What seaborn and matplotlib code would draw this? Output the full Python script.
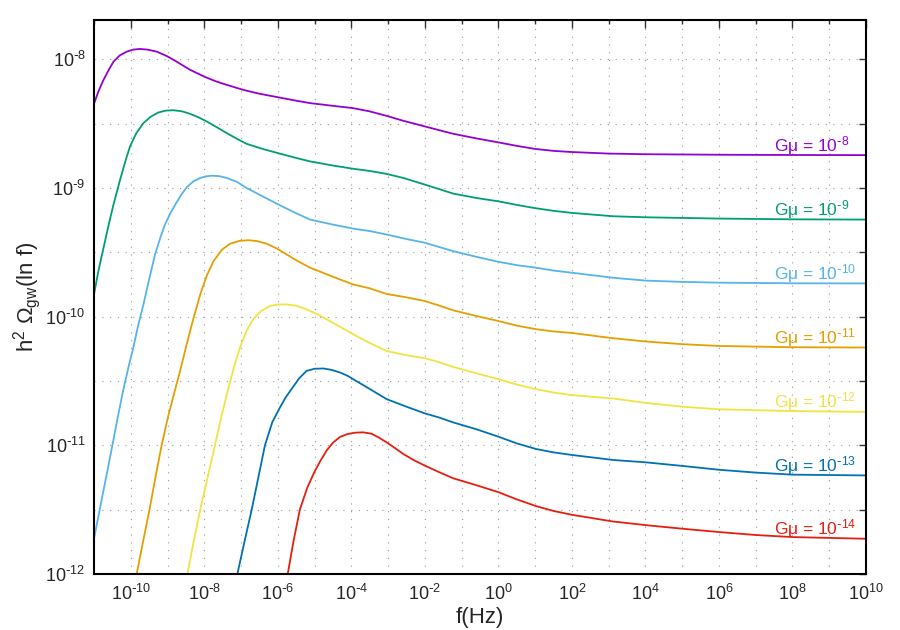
import matplotlib
matplotlib.use("Agg")
import matplotlib.pyplot as plt
import matplotlib.ticker as mticker
import numpy as np
import pandas as pd
import seaborn as sns

# log10(f) and log10(h^2 Omega_gw), one pair per curve
lf_m8 = [-11.0, -10.94, -10.88, -10.81, -10.74, -10.6, -10.47, -10.3, -10.11, -9.93, -9.75, -9.55, -9.29,
         -9.0, -8.75, -8.4, -8.0, -7.7, -7.39, -6.94, -6.5, -6.0, -5.5, -5.12, -4.5, -3.95, -3.5, -3.04,
         -2.59, -2.0, -1.6, -1.23, -0.6, 0.0, 0.5, 1.0, 1.5, 2.0, 3.0, 4.0, 6.0, 8.0, 10.0]
lo_m8 = [-8.347, -8.297, -8.251, -8.204, -8.160, -8.083, -8.019, -7.970, -7.941, -7.925, -7.920, -7.925, -7.941,
         -7.978, -8.019, -8.080, -8.135, -8.170, -8.199, -8.238, -8.268, -8.295, -8.322, -8.341, -8.362, -8.380, -8.405, -8.440,
         -8.478, -8.522, -8.552, -8.579, -8.615, -8.646, -8.673, -8.697, -8.712, -8.721, -8.733, -8.738, -8.742, -8.744, -8.745]

lf_m9 = [-11.0, -10.94, -10.88, -10.81, -10.74, -10.6, -10.47, -10.29, -10.15, -10.02, -9.85, -9.655, -9.45,
         -9.25, -9.05, -8.84, -8.6, -8.39, -8.15, -7.93, -7.65, -7.39, -7.1, -6.85, -6.4, -6.0, -5.5, -5.12,
         -4.5, -3.95, -3.5, -3.04, -2.59, -2.0, -1.6, -1.23, -0.6, 0.0, 0.5, 1.0, 1.5, 2.0, 3.12, 4.0, 6.0, 8.0, 10.0]
lo_m9 = [-9.827, -9.735, -9.646, -9.553, -9.465, -9.285, -9.129, -8.936, -8.795, -8.677, -8.575, -8.496, -8.445,
         -8.414, -8.399, -8.396, -8.405, -8.424, -8.452, -8.484, -8.530, -8.574, -8.620, -8.657, -8.698, -8.729, -8.767, -8.794,
         -8.826, -8.851, -8.868, -8.891, -8.922, -8.974, -9.010, -9.044, -9.078, -9.104, -9.132, -9.157, -9.178, -9.194, -9.220,
         -9.228, -9.238, -9.244, -9.246]

lf_m10 = [-11.01, -10.9, -10.79, -10.65, -10.52, -10.36, -10.2, -10.06, -9.93, -9.8, -9.655, -9.5, -9.34, -9.2,
          -9.07, -8.92, -8.77, -8.62, -8.48, -8.3, -8.11, -7.95, -7.8, -7.6, -7.39, -7.1, -6.85, -6.45, -6.03,
          -5.55, -5.12, -4.5, -3.95, -3.5, -3.04, -2.5, -2.0, -1.6, -1.23, -0.6, 0.0, 0.5, 1.03, 1.5, 2.0, 3.12,
          4.0, 5.0, 6.0, 8.0, 10.0]
lo_m10 = [-11.74, -11.58, -11.42, -11.22, -11.03, -10.79, -10.564, -10.39, -10.24, -10.07, -9.905, -9.71, -9.517, -9.39,
          -9.285, -9.195, -9.12, -9.05, -8.995, -8.95, -8.922, -8.91, -8.905, -8.908, -8.922, -8.955, -9.0, -9.06, -9.122,
          -9.19, -9.246, -9.285, -9.316, -9.335, -9.362, -9.397, -9.426, -9.46, -9.491, -9.535, -9.574, -9.6, -9.62, -9.642,
          -9.659, -9.698, -9.72, -9.73, -9.736, -9.741, -9.742]

lf_m11 = [-9.90, -9.84, -9.66, -9.49, -9.33, -9.16, -8.98, -8.79, -8.63, -8.48, -8.3, -8.11, -7.93, -7.75, -7.52,
          -7.30, -7.05, -6.80, -6.55, -6.30, -6.03, -5.76, -5.45, -5.12, -4.5, -3.95, -3.5, -3.04, -2.5, -2.0,
          -1.6, -1.23, -0.6, 0.0, 0.5, 1.03, 1.5, 2.0, 3.12, 4.0, 5.0, 6.0, 8.0, 10.0]
lo_m11 = [-12.09, -12.0, -11.74, -11.5, -11.25, -11.0, -10.77, -10.564, -10.39, -10.215, -10.02, -9.827, -9.68, -9.569, -9.48,
          -9.434, -9.412, -9.406, -9.414, -9.434, -9.47, -9.517, -9.57, -9.62, -9.69, -9.75, -9.78, -9.824, -9.85, -9.879,
          -9.915, -9.951, -9.995, -10.034, -10.07, -10.098, -10.115, -10.127, -10.168, -10.193, -10.214, -10.228, -10.238, -10.240]

lf_m12 = [-8.52, -8.46, -8.29, -8.11, -7.91, -7.71, -7.53, -7.35, -7.19, -7.03, -6.85, -6.67, -6.45, -6.21, -6.0,
          -5.78, -5.5, -5.22, -4.95, -4.67, -4.3, -3.95, -3.5, -3.04, -2.5, -2.0, -1.6, -1.23, -0.6, 0.0, 0.5,
          1.03, 1.5, 2.0, 3.12, 4.0, 5.0, 6.0, 8.0, 10.0]
lo_m12 = [-12.09, -12.0, -11.75, -11.5, -11.25, -11.0, -10.77, -10.564, -10.39, -10.24, -10.11, -10.021, -9.955, -9.918, -9.906,
          -9.905, -9.915, -9.943, -9.978, -10.021, -10.08, -10.137, -10.205, -10.267, -10.30, -10.323, -10.355, -10.391, -10.44, -10.486, -10.528,
          -10.564, -10.59, -10.61, -10.636, -10.67, -10.7, -10.72, -10.734, -10.74]

lf_m13 = [-7.16, -7.10, -6.9, -6.71, -6.53, -6.35, -6.15, -5.94, -5.78, -5.63, -5.42, -5.22, -5.0, -4.76, -4.55,
          -4.31, -4.1, -3.95, -3.49, -3.04, -2.5, -2.0, -1.6, -1.23, -0.6, 0.0, 0.5, 1.03, 1.5, 2.0, 3.12, 4.0,
          5.0, 6.0, 7.0, 8.0, 10.0]
lo_m13 = [-12.09, -12.0, -11.74, -11.5, -11.25, -11.0, -10.82, -10.705, -10.625, -10.564, -10.48, -10.422, -10.405, -10.403, -10.413,
          -10.434, -10.46, -10.486, -10.564, -10.641, -10.70, -10.752, -10.785, -10.822, -10.875, -10.933, -10.985, -11.029, -11.055, -11.075, -11.114, -11.132,
          -11.16, -11.19, -11.212, -11.228, -11.234]

lf_m14 = [-5.79, -5.73, -5.57, -5.40, -5.2, -5.0, -4.84, -4.67, -4.5, -4.31, -4.1, -3.9, -3.68, -3.45, -3.25,
          -3.04, -2.82, -2.59, -2.3, -2.0, -1.6, -1.23, -0.6, 0.0, 0.5, 1.03, 1.5, 2.0, 3.12, 4.0, 5.0, 6.0,
          7.0, 8.0, 10.0]
lo_m14 = [-12.09, -12.0, -11.74, -11.5, -11.33, -11.205, -11.12, -11.04, -10.98, -10.935, -10.912, -10.902, -10.899, -10.91, -10.94,
          -10.977, -11.02, -11.067, -11.115, -11.158, -11.21, -11.256, -11.31, -11.364, -11.42, -11.473, -11.51, -11.54, -11.592, -11.62, -11.648, -11.674,
          -11.697, -11.713, -11.726]

gmu_exp = [-8, -9, -10, -11, -12, -13, -14]
curves_lf = [lf_m8, lf_m9, lf_m10, lf_m11, lf_m12, lf_m13, lf_m14]
curves_lo = [lo_m8, lo_m9, lo_m10, lo_m11, lo_m12, lo_m13, lo_m14]
colors = ["#9400D3", "#009E73", "#56B4E9", "#E69F00", "#F0E442", "#0072B2", "#E51E10"]

frames = []
for e, lf, lo in zip(gmu_exp, curves_lf, curves_lo):
    frames.append(pd.DataFrame({"f": 10.0 ** np.array(lf), "omega": 10.0 ** np.array(lo), "gmu": e}))
df = pd.concat(frames, ignore_index=True)

sns.set_style("white")
plt.rcParams["font.family"] = ["Liberation Sans", "DejaVu Sans"]
plt.rcParams["mathtext.default"] = "regular"


def pow10(e):
    # gnuplot style exponent with a plain hyphen
    if e < 0:
        return r"10$^{\text{-}%d}$" % (-e)
    return r"10$^{%d}$" % e


def fmt_tick(v, pos):
    return pow10(int(round(np.log10(v))))


fig = plt.figure(figsize=(9, 6.3), dpi=100)
ax = fig.add_axes([94 / 900, 56 / 630, 772 / 900, 554 / 630])

palette = dict(zip(gmu_exp, colors))
sns.lineplot(data=df, x="f", y="omega", hue="gmu", palette=palette, estimator=None,
             linewidth=1.3, legend=False, ax=ax)

ax.set_xscale("log")
ax.set_yscale("log")
ax.set_xlim(1e-11, 1e10)
ax.set_ylim(1e-12, 10 ** -7.695)

ax.xaxis.set_major_locator(mticker.FixedLocator(10.0 ** np.arange(-10, 11, 2)))
ax.xaxis.set_minor_locator(mticker.FixedLocator(10.0 ** np.arange(-11, 10, 2)))
ax.yaxis.set_major_locator(mticker.FixedLocator(10.0 ** np.arange(-12, -7)))
ax.yaxis.set_minor_locator(mticker.FixedLocator(10.0 ** np.arange(-11.5, -8.0, 1.0)))
ax.xaxis.set_major_formatter(mticker.FuncFormatter(fmt_tick))
ax.yaxis.set_major_formatter(mticker.FuncFormatter(fmt_tick))
ax.xaxis.set_minor_formatter(mticker.NullFormatter())
ax.yaxis.set_minor_formatter(mticker.NullFormatter())

ax.tick_params(which="both", direction="in", top=True, right=True, color="#333333", width=1.0)
ax.tick_params(axis="x", which="major", length=6, labelsize=13, pad=7)
ax.tick_params(axis="x", which="minor", length=3)
ax.tick_params(axis="y", which="both", length=5, labelsize=13, pad=6)

ax.grid(True, which="both", color="#9a9a9a", linestyle=(0, (1, 6)), linewidth=0.8)
for s in ax.spines.values():
    s.set_color("black")
    s.set_linewidth(1.5)

ax.set_xlabel("f(Hz)", fontsize=16, labelpad=2)
ax.set_ylabel(r"h$^2$ $\Omega_{gw}$(ln f)", fontsize=16, labelpad=2)

for e, lo, c in zip(gmu_exp, curves_lo, colors):
    ax.annotate("G\u03bc = " + pow10(e), xy=(10 ** 7.5, 10.0 ** lo[-1]), xytext=(0, 3),
                textcoords="offset points", ha="left", va="baseline", color=c, fontsize=12.5)

fig.savefig("out.png", dpi=100)
